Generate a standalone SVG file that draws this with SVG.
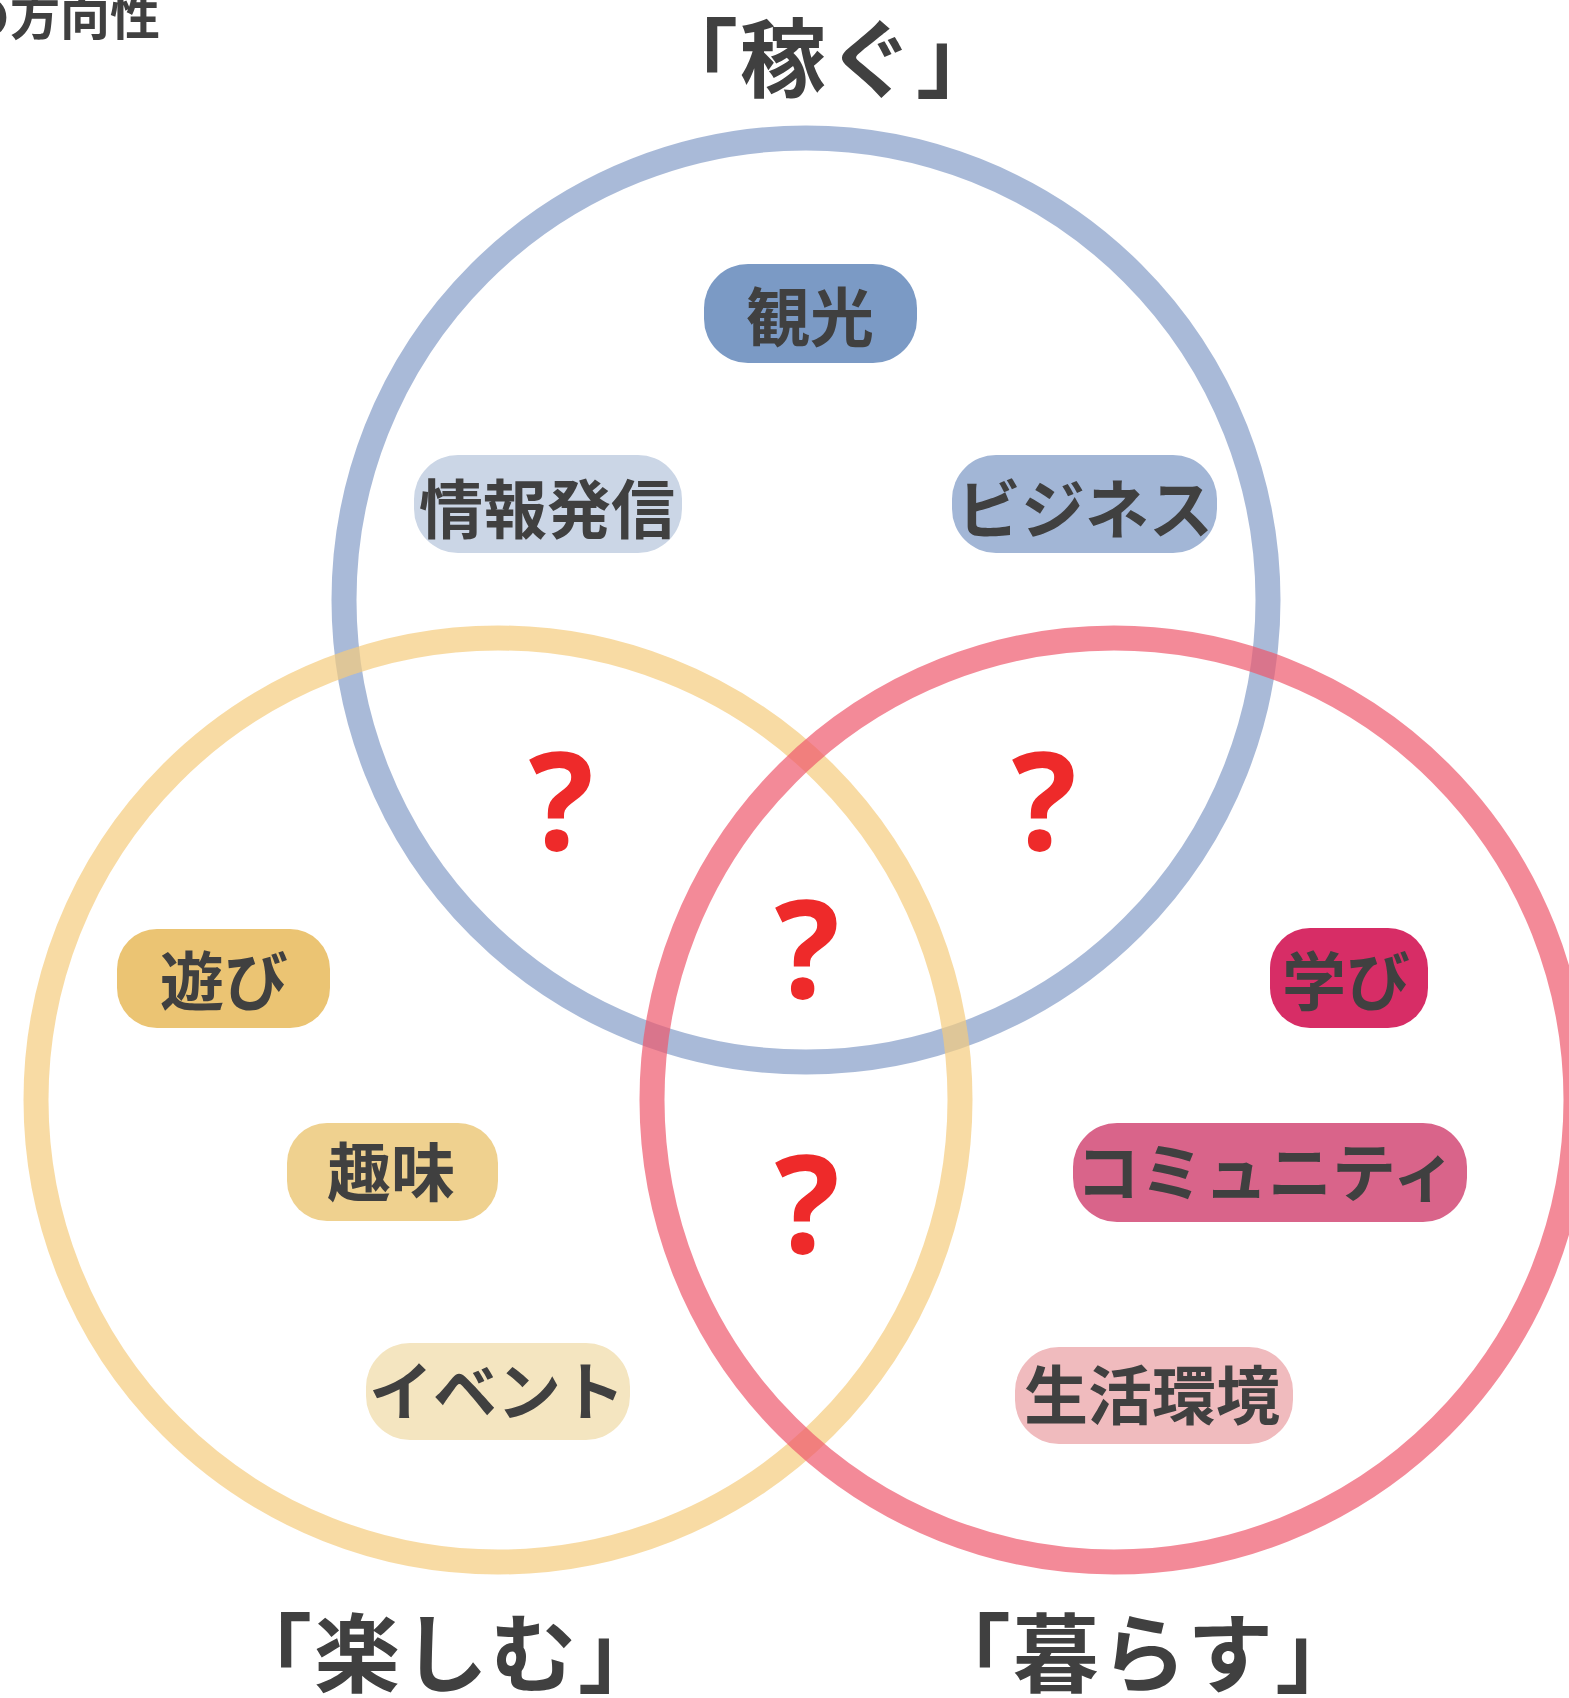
<svg xmlns="http://www.w3.org/2000/svg" width="1569" height="1698" viewBox="0 0 1569 1698">
<style>
.ring{fill:none;stroke-width:25;opacity:0.7}
.jp{font-family:"Noto Sans CJK JP","Noto Sans",sans-serif;font-weight:700;fill:#404040;text-anchor:middle}
.pill{font-size:64px}
.title{font-size:86px;letter-spacing:2px}
.q{font-family:"Noto Sans","DejaVu Sans",sans-serif;font-weight:700;font-size:136px;fill:#EE2A2A;text-anchor:middle}
</style>
<rect width="1569" height="1698" fill="#ffffff"/>
<text class="jp" x="-40" y="35" style="font-size:50px;text-anchor:start">の方向性</text>
<g id="rings">
<circle id="ring-kasegu" class="ring" cx="806" cy="600" r="462" stroke="#849CC7"/>
<circle id="ring-tanoshimu" class="ring" cx="498" cy="1100" r="462" stroke="#F5CC7E"/>
<circle id="ring-kurasu" class="ring" cx="1114" cy="1100" r="462" stroke="#EE586C"/>
</g>
<g id="title-kasegu"><text class="jp title" x="828" y="91">「稼ぐ」</text></g>
<g id="title-tanoshimu"><text class="jp title" x="446" y="1686">「楽しむ」</text></g>
<g id="title-kurasu"><text class="jp title" x="1144" y="1686">「暮らす」</text></g>
<g id="node-kanko"><rect x="704" y="264" width="213" height="99" rx="44" fill="#7B9AC5"/><text class="jp pill" x="810" y="341">観光</text></g>
<g id="node-joho"><rect x="414" y="455" width="268" height="98" rx="44" fill="#CBD6E6"/><text class="jp pill" x="547" y="533">情報発信</text></g>
<g id="node-business"><rect x="952" y="455" width="265" height="98" rx="44" fill="#A2B6D6"/><text class="jp pill" x="1085" y="533">ビジネス</text></g>
<g id="node-asobi"><rect x="117" y="929" width="213" height="99" rx="40" fill="#EBC473"/><text class="jp pill" x="224" y="1005">遊び</text></g>
<g id="node-manabi"><rect x="1270" y="928" width="158" height="100" rx="40" fill="#D72D66"/><text class="jp pill" x="1346" y="1005">学び</text></g>
<g id="node-shumi"><rect x="287" y="1123" width="211" height="98" rx="40" fill="#EFD18F"/><text class="jp pill" x="391" y="1196">趣味</text></g>
<g id="node-community"><rect x="1073" y="1123" width="394" height="99" rx="44" fill="#D9648A"/><text class="jp pill" x="1266" y="1196">コミュニティ</text></g>
<g id="node-event"><rect x="366" y="1343" width="264" height="97" rx="44" fill="#F4E5C0"/><text class="jp pill" x="497" y="1415">イベント</text></g>
<g id="node-seikatsu"><rect x="1015" y="1347" width="278" height="97" rx="44" fill="#F0BBBE"/><text class="jp pill" x="1152" y="1419">生活環境</text></g>
<g id="questions">
<text class="q" x="561" y="850">?</text>
<text class="q" x="1044" y="850">?</text>
<text class="q" x="807" y="998">?</text>
<text class="q" x="807" y="1253">?</text>
</g>
</svg>
